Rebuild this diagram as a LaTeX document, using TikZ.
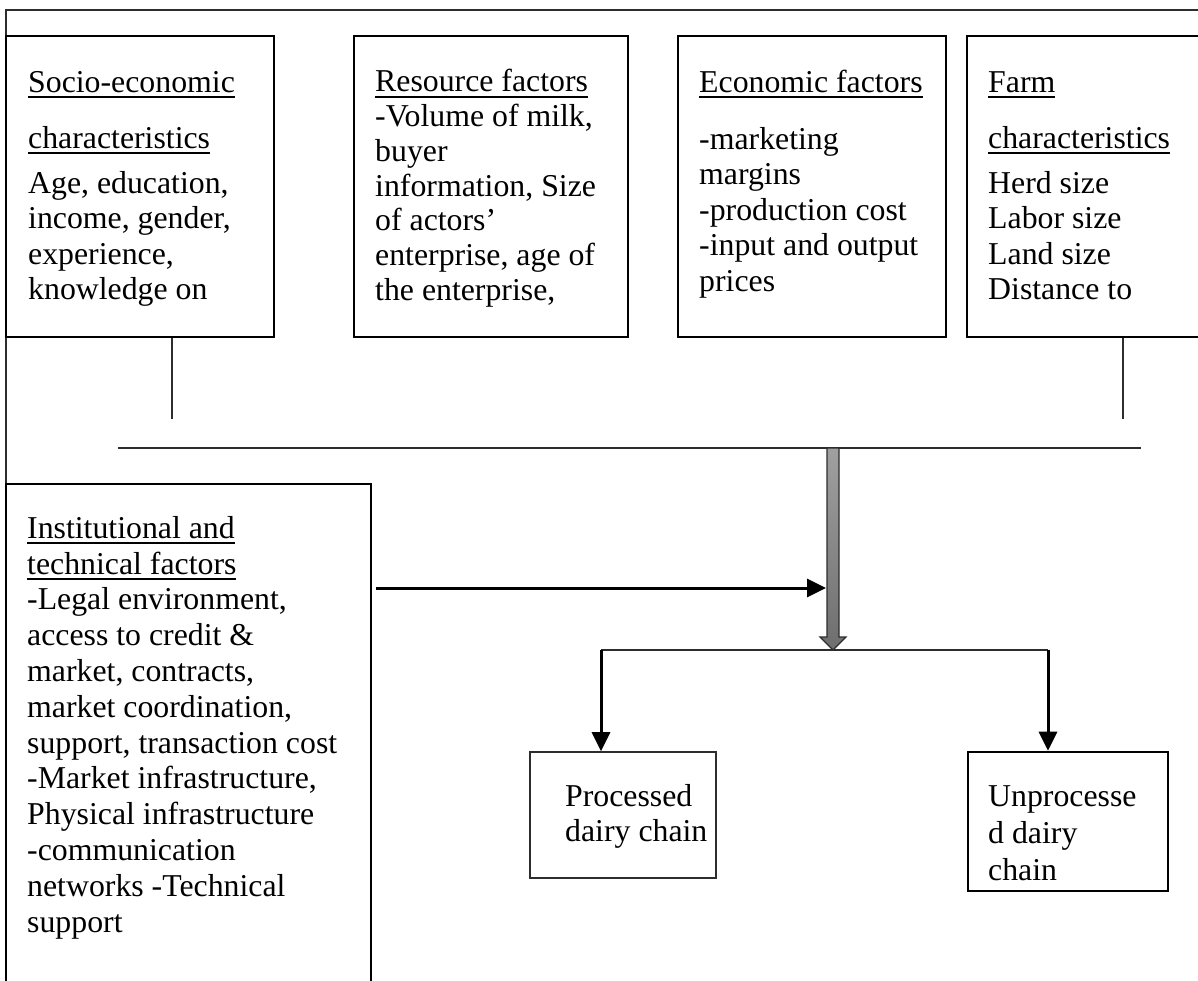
\documentclass[tikz,border=0pt]{standalone}
\usepackage{fontspec}
\setmainfont{Liberation Serif}
\usetikzlibrary{arrows.meta,calc}
\definecolor{gtop}{RGB}{160,160,160}
\definecolor{gbot}{RGB}{110,110,110}
\definecolor{linec}{RGB}{45,45,45}
\newcommand\myul[1]{\setbox0=\hbox{#1}\rlap{\rule[-6pt]{\wd0}{2pt}}\box0}
\begin{document}
\begin{tikzpicture}[x=1pt,y=-1pt,
  box/.style={draw=black,line width=2.6pt,inner sep=0pt},
  thinbox/.style={draw=linec,line width=1.6pt,inner sep=0pt},
  txt/.style={anchor=north west,inner sep=0pt,align=left,font={\fontsize{31.8}{35.6}\selectfont}},
  txtr/.style={anchor=north west,inner sep=0pt,align=left,font={\fontsize{31.8}{34.7}\selectfont}},
  txti/.style={anchor=north west,inner sep=0pt,align=left,font={\fontsize{31.8}{35.8}\selectfont}},
  txtu/.style={anchor=north west,inner sep=0pt,align=left,font={\fontsize{31.8}{36.7}\selectfont}},
  thin/.style={draw=linec,line width=1.6pt},
  arr/.style={draw=black,line width=3pt,-{Triangle[length=19pt,width=18pt]}}]
\useasboundingbox (0,0) rectangle (1198,981);
% outer frame
\draw[draw=linec,line width=2.4pt] (6,10) rectangle (1240,1010);
% top boxes
\node[box,minimum width=268pt,minimum height=301pt] (socio) at (140,186.5) {};
\node[box,minimum width=274pt,minimum height=301pt] (res) at (491,186.5) {};
\node[box,minimum width=268pt,minimum height=301pt] (eco) at (812,186.5) {};
\node[box,minimum width=248pt,minimum height=301pt] (farm) at (1091,186.5) {};
% lower boxes
\node[box,minimum width=365pt,minimum height=516pt] (inst) at (188.5,742) {};
\node[thinbox,minimum width=186pt,minimum height=126pt] (proc) at (623,815) {};
\node[box,minimum width=200pt,minimum height=139pt] (unproc) at (1068,821.5) {};
% texts
\node[txt] (sociot) at (28,67) {\strut\myul{Socio-economic}\\[20.4pt]\myul{characteristics}\\[9.4pt]Age, education,\\income, gender,\\experience,\\knowledge on};
\node[txtr] (rest) at (375,67.5) {\strut\myul{Resource factors}\\-Volume of milk,\\buyer\\information, Size\\of actors’\\enterprise, age of\\the enterprise,};
\node[txt] (ecot) at (699,67) {\strut\myul{Economic factors}\\[21.4pt]-marketing\\margins\\-production cost\\-input and output\\prices};
\node[txt] (farmt) at (988,67) {\strut\myul{Farm}\\[20.4pt]\myul{characteristics}\\[9.4pt]Herd size\\Labor size\\Land size\\Distance to};
\node[txti] (instt) at (27,513) {\strut\myul{Institutional and}\\\myul{technical factors}\\-Legal environment,\\access to credit \&\\market, contracts,\\market coordination,\\support, transaction cost\\-Market infrastructure,\\Physical infrastructure\\-communication\\networks -Technical\\support};
\node[txt] (proct) at (565,781) {\strut Processed\\dairy chain};
\node[txtu] (unproct) at (988,781) {\strut Unprocesse\\d dairy\\chain};
% connectors
\coordinate (sTap) at (172,419);
\coordinate (fTap) at (1123,419);
\coordinate (busL) at (118,448);
\coordinate (busR) at (1141,448);
\draw[thin] (socio.south -| sTap) -- (sTap);
\draw[thin] (farm.south -| fTap) -- (fTap);
\draw[thin] (busL) -- (busR);
% gray block arrow
\coordinate (gTop) at (833,448);
\coordinate (gTip) at (833,650);
\draw[draw=linec,line width=1.2pt,top color=gtop,bottom color=gbot]
  ($(gTop)+(-6,0)$) -- ($(gTop)+(6,0)$) -- ($(gTip)+(6,-13)$) -- ($(gTip)+(13,-13)$)
  -- (gTip) -- ($(gTip)+(-13,-13)$) -- ($(gTip)+(-6,-13)$) -- cycle;
% institutional arrow
\coordinate (iEnd) at (826,588);
\draw[arr] ($(inst.east |- iEnd)+(4,0)$) -- (iEnd);
% split
\coordinate (spL) at (601,650);
\coordinate (spR) at (1048,650);
\draw[thin] (spL) -- (spR);
\draw[arr] (spL) -- (proc.north -| spL);
\draw[arr] (spR) -- (unproc.north -| spR);
\end{tikzpicture}
\end{document}
